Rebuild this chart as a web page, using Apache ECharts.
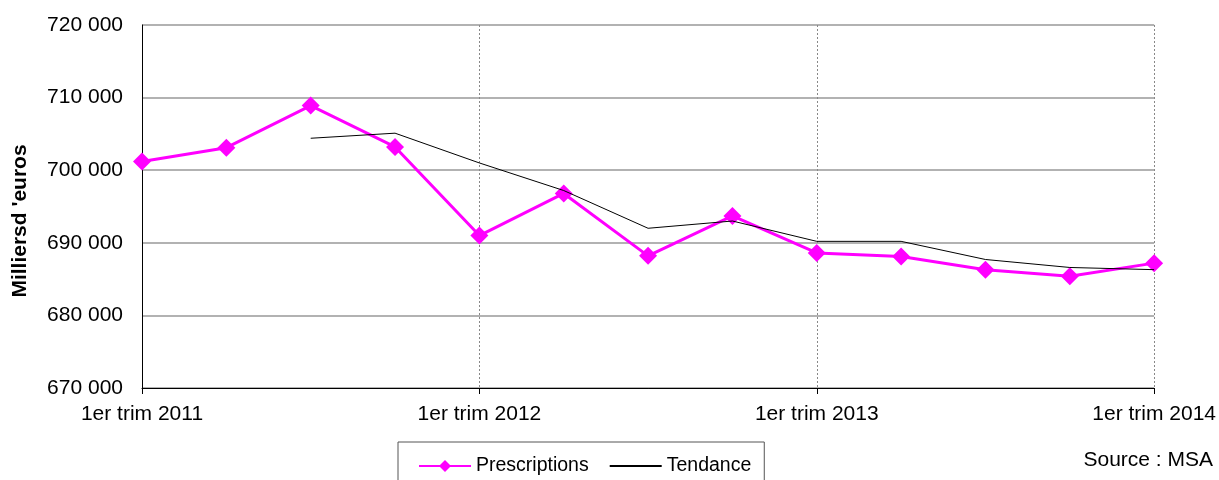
<!DOCTYPE html>
<html>
<head>
<meta charset="utf-8">
<script src="https://cdn.jsdelivr.net/npm/echarts@6/dist/echarts.min.js"></script>
<style>
html,body{margin:0;padding:0;background:#fff;}
#chart{width:1219px;height:480px;}
</style>
</head>
<body>
<div id="chart"></div>
<script>
var trimestres = ['1er trim 2011','2e trim 2011','3e trim 2011','4e trim 2011',
	'1er trim 2012','2e trim 2012','3e trim 2012','4e trim 2012',
	'1er trim 2013','2e trim 2013','3e trim 2013','4e trim 2013','1er trim 2014'];
var prescriptions = [701200, 703100, 708900, 703200, 691000, 696800, 688200, 693700, 688600, 688100, 686300, 685400, 687200];
var tendance = ['-', '-', 704400, 705100, 701000, 697200, 692000, 693000, 690200, 690200, 687700, 686600, 686300];
var yTicks = [670000, 680000, 690000, 700000, 710000, 720000];

var police = 'Liberation Sans, Arial, sans-serif';

function formatMillier(v){
	var s = String(v);
	return s.replace(/\B(?=(\d{3})+(?!\d))/g, ' ');
}

var myChart = echarts.init(document.getElementById('chart'));

option = {
	backgroundColor: '#fff',
	animation: false,
	grid: {
		left: 142,
		right: 64,
		top: 25,
		bottom: 92
	},
	legend: {
		left: 398,
		top: 442,
		itemWidth: 52,
		itemHeight: 15,
		itemGap: 20,
		padding: [14, 13, 30, 20],
		borderColor: '#555',
		borderWidth: 1,
		textStyle: {color: '#000', fontSize: 19.5, fontFamily: police},
		data: ['Prescriptions', {name: 'Tendance', itemStyle: {color: 'rgba(0,0,0,0)', borderWidth: 0}}]
	},
	xAxis: {
		type: 'category',
		boundaryGap: false,
		data: trimestres,
		axisLine: {lineStyle: {color: '#000', width: 1}},
		axisTick: {interval: 3, length: 6, lineStyle: {color: '#000'}},
		axisLabel: {interval: 3, color: '#000', fontSize: 21, fontFamily: police, margin: 16},
		splitLine: {show: true, interval: 3, lineStyle: {color: '#888', type: [2, 2], width: 1}}
	},
	yAxis: {
		type: 'value',
		min: yTicks[0],
		max: yTicks[yTicks.length - 1],
		interval: 10000,
		axisLine: {show: true, lineStyle: {color: '#000'}},
		axisTick: {show: false},
		axisLabel: {color: '#000', fontSize: 21, fontFamily: police, margin: 19, formatter: formatMillier},
		splitLine: {show: true, lineStyle: {color: '#999', width: 1.5}}
	},
	graphic: [{
		type: 'text',
		x: 20,
		y: 221,
		rotation: Math.PI / 2,
		style: {text: "Milliersd 'euros", fontSize: 21, fontWeight: 'bold', fontFamily: police, fill: '#000', align: 'center', verticalAlign: 'middle'}
	}, {
		type: 'text',
		right: 6,
		top: 450,
		style: {text: 'Source : MSA', fontSize: 21, fontFamily: police, fill: '#000'}
	}],
	series: [{
		name: 'Prescriptions',
		type: 'line',
		data: prescriptions,
		symbol: 'diamond',
		symbolSize: 18,
		itemStyle: {color: '#FF00FF'},
		lineStyle: {color: '#FF00FF', width: 3},
		z: 3
	}, {
		name: 'Tendance',
		type: 'line',
		data: tendance,
		symbol: 'none',
		itemStyle: {color: '#000'},
		lineStyle: {color: '#000', width: 1},
		z: 4
	}]
};

myChart.setOption(option);
</script>
</body>
</html>
